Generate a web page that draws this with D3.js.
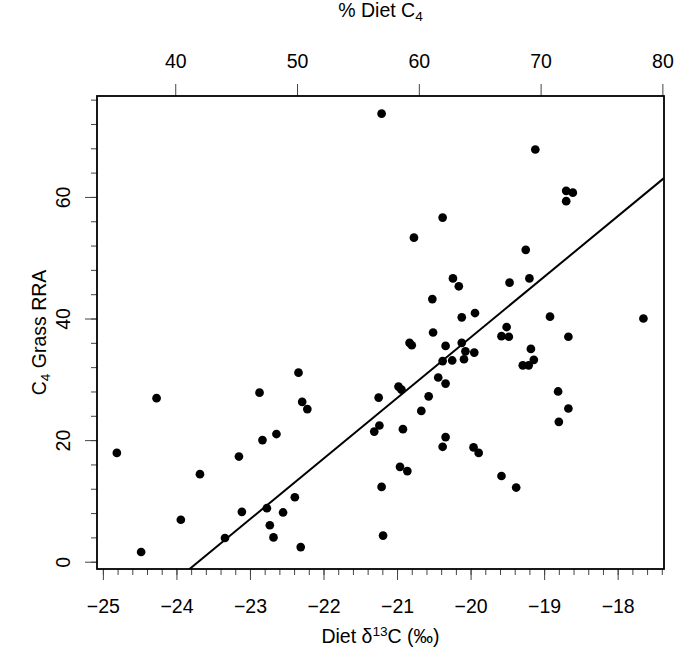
<!DOCTYPE html>
<html><head><meta charset="utf-8">
<script src="https://cdn.jsdelivr.net/npm/d3@7"></script>
<style>
body{margin:0;background:#fff}
text{font-family:"Liberation Sans",Arial,Helvetica,sans-serif;fill:#000}
</style>
</head><body>
<svg id="chart" width="675" height="662"></svg>
<script>
// Data (Diet δ13C ‰ , C4 grass RRA %)
const dietD13C = [
 -21.21,-19.12,-18.70,-18.61,-18.70,-20.38,-20.77,-19.25,-20.24,-20.16,
 -19.47,-19.20,-20.52,-20.12,-19.94,-18.92,-17.65,-20.51,-19.51,-19.58,
 -19.48,-18.67,-20.83,-20.80,-20.34,-20.12,-20.07,-19.95,-20.09,-20.38,
 -20.25,-19.18,-19.14,-19.29,-19.21,-20.44,-20.34,-20.98,-20.94,-20.57,
 -20.67,-20.92,-20.34,-20.38,-19.96,-19.89,-18.81,-18.67,-18.80,-20.96,
 -20.86,-19.58,-19.38,-22.34,-22.87,-24.27,-22.29,-22.22,-21.25,-21.24,
 -21.31,-22.64,-22.83,-24.81,-23.15,-23.68,-21.21,-22.39,-22.77,-23.11,
 -22.55,-23.94,-22.73,-23.34,-22.68,-21.19,-24.48,-22.31
];
const grassRRA = [
 73.7,67.8,61.0,60.7,59.3,56.6,53.3,51.3,46.6,45.3,
 45.9,46.6,43.2,40.2,40.9,40.3,40.0,37.7,38.6,37.1,
 37.0,37.0,36.0,35.6,35.5,36.0,34.6,34.4,33.3,33.0,
 33.1,35.0,33.2,32.3,32.3,30.3,29.3,28.8,28.3,27.2,
 24.8,21.8,20.5,18.9,18.8,17.9,28.0,25.2,23.0,15.6,
 14.9,14.1,12.2,31.1,27.8,26.9,26.3,25.1,27.0,22.4,
 21.4,21.0,20.0,17.9,17.3,14.4,12.3,10.6,8.8,8.2,
 8.1,6.9,6.0,3.9,4.0,4.3,1.6,2.4
];
const xMajorTicks = [-25,-24,-23,-22,-21,-20,-19,-18];
const yMajorTicks = [0,20,40,60];
const pctTicks = [40,50,60,70,80];
// fitted regression line
const fitSlope = 9.966, fitIntercept = 236.2;
// isotopic end members used for the % Diet C4 axis
const endC3 = -30.64, endC4 = -14.08;

const svg = d3.select("#chart");
const L = 97, T = 96, R = 664, B = 569;
const FS = 19.5;

const x = d3.scaleLinear().domain([-25.08, -17.37]).range([L, R]);
const y = d3.scaleLinear().domain([-1.2, 76.6]).range([B, T]);
const toPct = d => (d - endC3) / (endC4 - endC3) * 100;
const xTop = d3.scaleLinear().domain(x.domain().map(toPct)).range([L, R]);

svg.append("rect").attr("width",675).attr("height",662).attr("fill","#fff");

svg.append("clipPath").attr("id","clip").append("rect")
  .attr("x",L).attr("y",T).attr("width",R-L).attr("height",B-T);

function styleAxis(g){
  g.select(".domain").remove();
  g.selectAll("line").attr("stroke","#444").attr("stroke-width",1);
  g.selectAll("text").attr("font-size",FS).attr("fill","#000").style("font-family",'"Liberation Sans",Arial,sans-serif');
}

// bottom axis: minor ticks every 0.2, majors with labels
const xMinor = d3.range(-25, -17.35, 0.2).map(v => +v.toFixed(2));
svg.append("g").attr("transform",`translate(0,${B})`)
  .call(d3.axisBottom(x).tickValues(xMinor).tickSize(6).tickFormat(""))
  .call(styleAxis);
svg.append("g").attr("transform",`translate(0,${B})`)
  .call(d3.axisBottom(x).tickValues(xMajorTicks).tickSize(11).tickPadding(19).tickFormat(d => d3.format("d")(d).replace("-", "\u2212")))
  .call(styleAxis);

// left axis: minor ticks every 4, majors with labels rotated
const yMinor = d3.range(0, 77, 4);
svg.append("g").attr("transform",`translate(${L},0)`)
  .call(d3.axisLeft(y).tickValues(yMinor).tickSize(6).tickFormat(""))
  .call(styleAxis);
const yAx = svg.append("g").attr("transform",`translate(${L},0)`)
  .call(d3.axisLeft(y).tickValues(yMajorTicks).tickSize(12).tickFormat(d3.format("d")))
  .call(styleAxis);
yAx.selectAll("text")
  .attr("x",null).attr("dy",null)
  .attr("text-anchor","middle")
  .attr("transform","translate(-27.5,0) rotate(-90)");

// top axis: % Diet C4
svg.append("g").attr("transform",`translate(0,${T})`)
  .call(d3.axisTop(xTop).tickValues(pctTicks).tickSize(12).tickPadding(16).tickFormat(d3.format("d")))
  .call(styleAxis);

// regression line
const xd = x.domain();
svg.append("line")
  .attr("clip-path","url(#clip)")
  .attr("x1", x(xd[0])).attr("y1", y(fitIntercept + fitSlope*xd[0]))
  .attr("x2", x(xd[1])).attr("y2", y(fitIntercept + fitSlope*xd[1]))
  .attr("stroke","#000").attr("stroke-width",2);

// points
svg.append("g").selectAll("circle")
  .data(dietD13C.map((d,i)=>({x:d, y:grassRRA[i]})))
  .join("circle")
  .attr("cx", d => x(d.x)).attr("cy", d => y(d.y))
  .attr("r", 4.35).attr("fill","#000");

// plot box
svg.append("rect").attr("x",L).attr("y",T).attr("width",R-L).attr("height",B-T)
  .attr("fill","none").attr("stroke","#000").attr("stroke-width",1.8);

// titles
const cx = (L+R)/2, cy = (T+B)/2;
const t1 = svg.append("text").attr("x",cx).attr("y",17).attr("text-anchor","middle").attr("font-size",FS);
t1.append("tspan").text("% Diet C");
t1.append("tspan").attr("font-size",FS*0.7).attr("dy",4).text("4");

const t2 = svg.append("text").attr("x",cx).attr("y",643).attr("text-anchor","middle").attr("font-size",FS);
t2.append("tspan").text("Diet \u03B4");
t2.append("tspan").attr("font-size",FS*0.7).attr("dy",-7).text("13");
t2.append("tspan").attr("dy",7).text("C (\u2030)");

const t3 = svg.append("text").attr("transform",`translate(45.5,${cy}) rotate(-90)`).attr("text-anchor","middle").attr("font-size",FS);
t3.append("tspan").text("C");
t3.append("tspan").attr("font-size",FS*0.7).attr("dy",4).text("4");
t3.append("tspan").attr("dy",-4).text(" Grass RRA");
</script>
</body></html>
